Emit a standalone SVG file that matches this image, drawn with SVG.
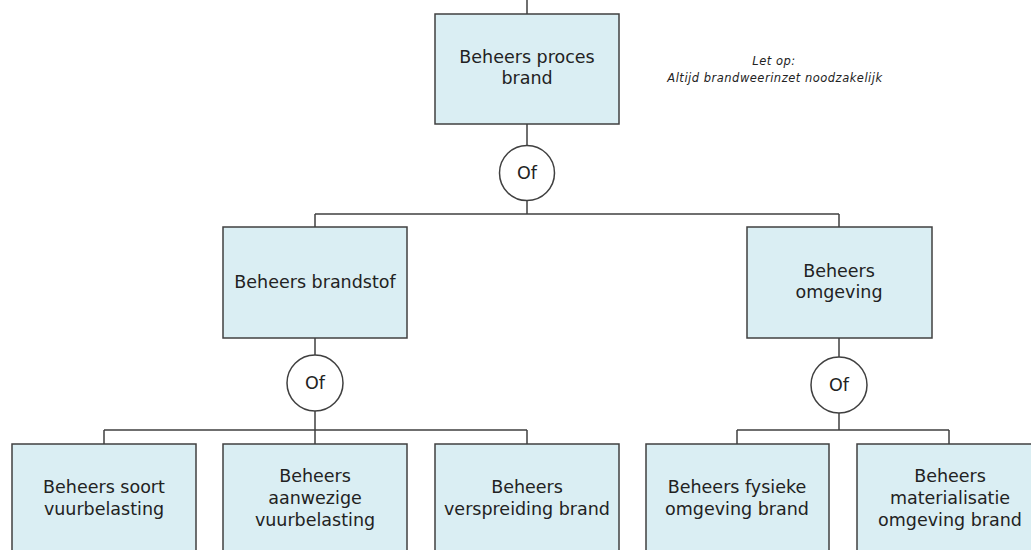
<svg xmlns="http://www.w3.org/2000/svg" width="1031" height="550" viewBox="0 0 1031 550">
<style>
.box{fill:#DAEEF3;stroke:#404040;stroke-width:1.5}
.gate{fill:#FFFFFF;stroke:#404040;stroke-width:1.5}
.lbl{font-family:"DejaVu Sans",Verdana,sans-serif;font-size:17.5px;fill:#222222;text-anchor:middle}
.note{font-family:"DejaVu Sans",Verdana,sans-serif;font-style:italic;font-size:11.5px;letter-spacing:0.5px;fill:#222222;text-anchor:middle}
.con{fill:none;stroke:#404040;stroke-width:1.5}
</style>
<rect width="1031" height="550" fill="#FFFFFF"/>
<g id="connectors">
<path class="con" d="M527 0V14M527 124V146M527 201V214M315 214H839M315 214V227M839 214V227"/>
<path class="con" d="M315 338V355M315 411V430M104 430H527M104 430V444M315 430V444M527 430V444"/>
<path class="con" d="M839 338V357M839 413V430M737 430H949M737 430V444M949 430V444"/>
</g>
<g id="n-proces">
<rect class="box" x="435" y="14" width="184" height="110"/>
<text class="lbl" x="527" y="63">Beheers proces</text>
<text class="lbl" x="527" y="84">brand</text>
</g>
<g id="g-of1">
<circle class="gate" cx="527" cy="173" r="27.5"/>
<text class="lbl" x="527" y="179">Of</text>
</g>
<g id="note">
<text class="note" x="774" y="65">Let op:</text>
<text class="note" x="775" y="82">Altijd brandweerinzet noodzakelijk</text>
</g>
<g id="n-brandstof">
<rect class="box" x="223" y="227" width="184" height="111"/>
<text class="lbl" x="315" y="288">Beheers brandstof</text>
</g>
<g id="n-omgeving">
<rect class="box" x="747" y="227" width="185" height="111"/>
<text class="lbl" x="839" y="277">Beheers</text>
<text class="lbl" x="839" y="298">omgeving</text>
</g>
<g id="g-of2">
<circle class="gate" cx="315" cy="383" r="28"/>
<text class="lbl" x="315" y="389">Of</text>
</g>
<g id="g-of3">
<circle class="gate" cx="839" cy="385" r="28"/>
<text class="lbl" x="839" y="391">Of</text>
</g>
<g id="n-soort">
<rect class="box" x="12" y="444" width="184" height="120"/>
<text class="lbl" x="104" y="493">Beheers soort</text>
<text class="lbl" x="104" y="515">vuurbelasting</text>
</g>
<g id="n-aanwezige">
<rect class="box" x="223" y="444" width="184" height="120"/>
<text class="lbl" x="315" y="482">Beheers</text>
<text class="lbl" x="315" y="504">aanwezige</text>
<text class="lbl" x="315" y="526">vuurbelasting</text>
</g>
<g id="n-verspreiding">
<rect class="box" x="435" y="444" width="184" height="120"/>
<text class="lbl" x="527" y="493">Beheers</text>
<text class="lbl" x="527" y="515">verspreiding brand</text>
</g>
<g id="n-fysieke">
<rect class="box" x="646" y="444" width="183" height="120"/>
<text class="lbl" x="737" y="493">Beheers fysieke</text>
<text class="lbl" x="737" y="515">omgeving brand</text>
</g>
<g id="n-materialisatie">
<rect class="box" x="857" y="444" width="184" height="120"/>
<text class="lbl" x="950" y="482">Beheers</text>
<text class="lbl" x="950" y="504">materialisatie</text>
<text class="lbl" x="950" y="526">omgeving brand</text>
</g>
</svg>
